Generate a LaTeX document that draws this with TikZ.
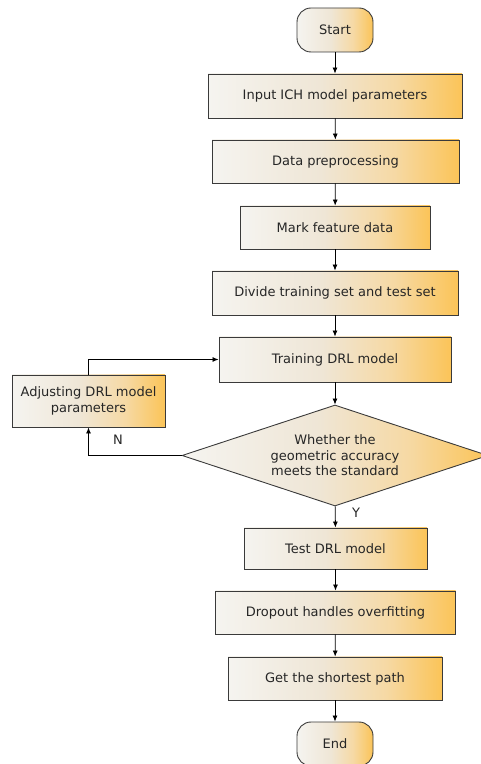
\documentclass[tikz,border=0pt]{standalone}
\usepackage{fontspec}
\setmainfont{DejaVu Sans}
\usetikzlibrary{shapes.geometric,arrows.meta}
\definecolor{ca}{HTML}{F5F4F0}
\definecolor{cb}{HTML}{EFE6D6}
\definecolor{cc}{HTML}{F6D9A4}
\definecolor{cd}{HTML}{FBC458}
\definecolor{edge}{HTML}{3A3A3A}
\pgfdeclarehorizontalshading{boxshade}{100bp}{color(0bp)=(ca); color(25bp)=(ca); color(47bp)=(cb); color(62bp)=(cc); color(75bp)=(cd); color(100bp)=(cd)}
\tikzset{
  every node/.style={font=\fontsize{13}{15.5}\selectfont, text=black!85},
  procbox/.style={draw=edge, line width=0.9pt, shading=boxshade, inner sep=0pt, align=center},
  termbox/.style={procbox, rounded corners=14pt},
  decbox/.style={procbox, diamond, aspect=3},
  arr/.style={draw=black, line width=0.8pt, -{Latex[length=6pt,width=5pt]}},
  lbl/.style={font=\fontsize{13}{15.5}\selectfont}
}
\begin{document}
\begin{tikzpicture}[x=1pt,y=1pt]
\useasboundingbox (0,0) rectangle (481,764);
% y = 764 - ypx
\node[termbox, minimum width=76pt, minimum height=44pt] (start) at (335,734) {Start};
\node[procbox, minimum width=254pt, minimum height=44pt] (input) at (335,668) {Input ICH model parameters};
\node[procbox, minimum width=247pt, minimum height=43pt] (prep) at (335.5,602.5) {Data preprocessing};
\node[procbox, minimum width=190pt, minimum height=43pt] (mark) at (335,536.5) {Mark feature data};
\node[procbox, minimum width=246pt, minimum height=44pt] (divide) at (335,471) {Divide training set and test set};
\node[procbox, minimum width=232pt, minimum height=45pt] (train) at (335,404.5) {Training DRL model};
\node[procbox, minimum width=153pt, minimum height=52pt] (adj) at (88.5,363) {Adjusting DRL model\\parameters};
\node[decbox, minimum width=306pt, minimum height=101pt] (dec) at (335,308.5) {Whether the\\geometric accuracy\\meets the standard};
\node[procbox, minimum width=183pt, minimum height=41pt] (test) at (335.5,215.5) {Test DRL model};
\node[procbox, minimum width=240pt, minimum height=43pt] (drop) at (335.5,151.5) {Dropout handles overfitting};
\node[procbox, minimum width=214pt, minimum height=43pt] (path) at (335,85.5) {Get the shortest path};
\node[termbox, minimum width=76pt, minimum height=44pt] (end) at (335,20) {End};
\draw[arr] (start) -- (input);
\draw[arr] (input) -- (prep);
\draw[arr] (prep) -- (mark);
\draw[arr] (mark) -- (divide);
\draw[arr] (divide) -- (train);
\draw[arr] (train) -- (dec);
\draw[arr] (dec) -- (test);
\node[lbl] (ylab) at (356,251) {Y};
\draw[arr] (test) -- (drop);
\draw[arr] (drop) -- (path);
\draw[arr] (path) -- (end);
\draw[arr] (dec.west) -| (adj.south);
\node[lbl] (nlab) at (118,324) {N};
\draw[arr] (adj.north) |- (train.west);
\end{tikzpicture}
\end{document}
